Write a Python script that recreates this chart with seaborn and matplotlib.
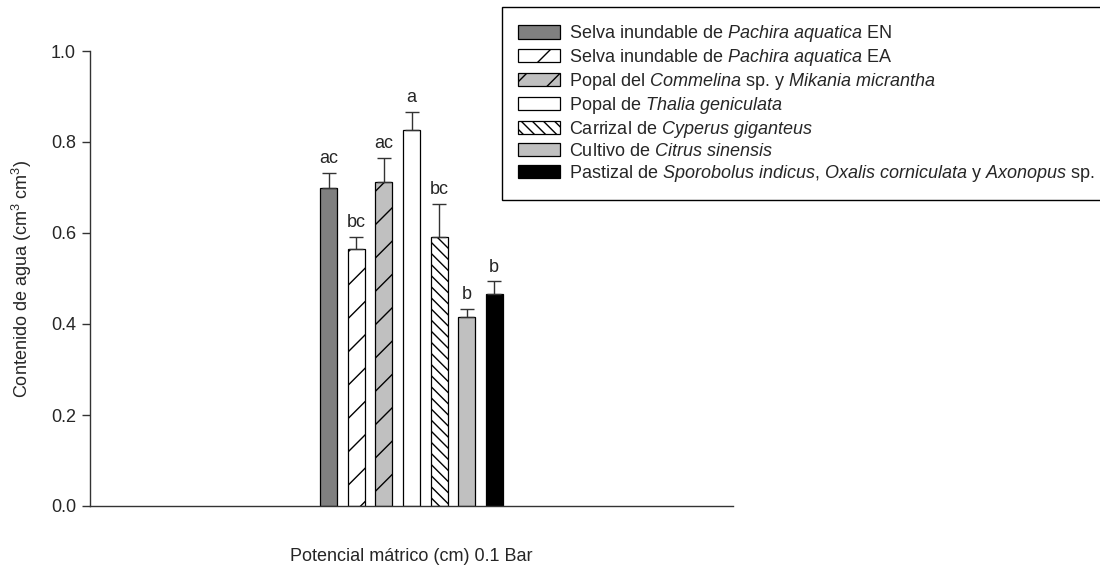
import numpy as np
import pandas as pd
import matplotlib
matplotlib.use("Agg")
import matplotlib.pyplot as plt
import seaborn as sns
from matplotlib.patches import Patch

# === DATOS ===
grupos = ["EN", "EA", "Commelina", "Thalia", "Cyperus", "Citrus", "Pastizal"]
etiquetas = [
    r"Selva inundable de $\mathit{Pachira\ aquatica}$ EN",
    r"Selva inundable de $\mathit{Pachira\ aquatica}$ EA",
    r"Popal del $\mathit{Commelina}$ sp. y $\mathit{Mikania\ micrantha}$",
    r"Popal de $\mathit{Thalia\ geniculata}$",
    r"Carrizal de $\mathit{Cyperus\ giganteus}$",
    r"Cultivo de $\mathit{Citrus\ sinensis}$",
    r"Pastizal de $\mathit{Sporobolus\ indicus}$, $\mathit{Oxalis\ corniculata}$ y $\mathit{Axonopus}$ sp.",
]
contenido = [0.699, 0.565, 0.712, 0.826, 0.592, 0.415, 0.467]
error = [0.033, 0.027, 0.053, 0.041, 0.072, 0.018, 0.027]
letras = ["ac", "bc", "ac", "a", "bc", "b", "b"]

colores = ["#808080", "#ffffff", "#c0c0c0", "#ffffff", "#ffffff", "#c0c0c0", "#000000"]
tramas = ["", "/", "/", "", "\\\\\\", "", ""]

# === ESTILO ===
sns.set_style("white")
plt.rcParams["font.family"] = ["Liberation Sans", "DejaVu Sans"]
plt.rcParams["mathtext.fontset"] = "custom"
plt.rcParams["mathtext.rm"] = "Liberation Sans"
plt.rcParams["mathtext.it"] = "Liberation Sans:italic"
plt.rcParams["hatch.linewidth"] = 1.0
plt.rcParams["hatch.color"] = "black"
fs = 13

df = pd.DataFrame({"grupo": grupos, "valor": contenido})

fig = plt.figure(figsize=(11, 5.67), dpi=100)
ax = fig.add_axes([90 / 1100, 61 / 567, 643 / 1100, 455 / 567])

sns.barplot(data=df, x="grupo", y="valor", hue="grupo", palette=colores,
            width=0.62, edgecolor="black", linewidth=0.9, legend=False,
            errorbar=None, ax=ax, saturation=1)

for p, tr in zip(ax.patches, tramas):
    p.set_hatch(tr)

xs = [p.get_x() + p.get_width() / 2 for p in ax.patches]
ax.errorbar(xs, contenido, yerr=[np.zeros(len(error)), error], fmt="none",
            ecolor="#333333", elinewidth=1.0, capsize=5, capthick=1.0, zorder=1)

for x, v, e, l in zip(xs, contenido, error, letras):
    ax.annotate(l, (x, v + e), xytext=(0, 4), textcoords="offset points",
                ha="center", va="bottom", fontsize=fs)

ax.set_xlim(3 - 11.65, 3 + 11.65)
ax.set_ylim(0, 1.0)
ax.set_yticks(np.arange(0, 1.01, 0.2))
ax.set_yticklabels([f"{t:.1f}" for t in np.arange(0, 1.01, 0.2)], fontsize=fs)
ax.set_xticks([])
ax.set_xlabel("Potencial mátrico (cm) 0.1 Bar", fontsize=fs, labelpad=30)
ax.set_ylabel("Contenido de agua (cm$^3$ cm$^3$)", fontsize=fs, labelpad=12)
ax.tick_params(axis="y", direction="out", length=6, width=1, left=True,
               color="#333333", pad=4)
sns.despine(ax=ax)
for s in ["left", "bottom"]:
    ax.spines[s].set_color("#333333")
    ax.spines[s].set_linewidth(1.0)

# === LEYENDA ===
handles = [Patch(facecolor=c, edgecolor="black", hatch=h, linewidth=0.9)
           for c, h in zip(colores, tramas)]
leg = fig.legend(handles, etiquetas, loc="upper left",
                 bbox_to_anchor=(502 / 1100, 1 - 7 / 567), fontsize=fs,
                 frameon=True, fancybox=False, edgecolor="black",
                 handlelength=2.3, handleheight=0.75, handletextpad=0.5,
                 labelspacing=0.16, borderpad=0.9, borderaxespad=0)
leg.get_frame().set_linewidth(1.0)
leg.get_frame().set_alpha(1)

fig.savefig("out.png", dpi=100)
